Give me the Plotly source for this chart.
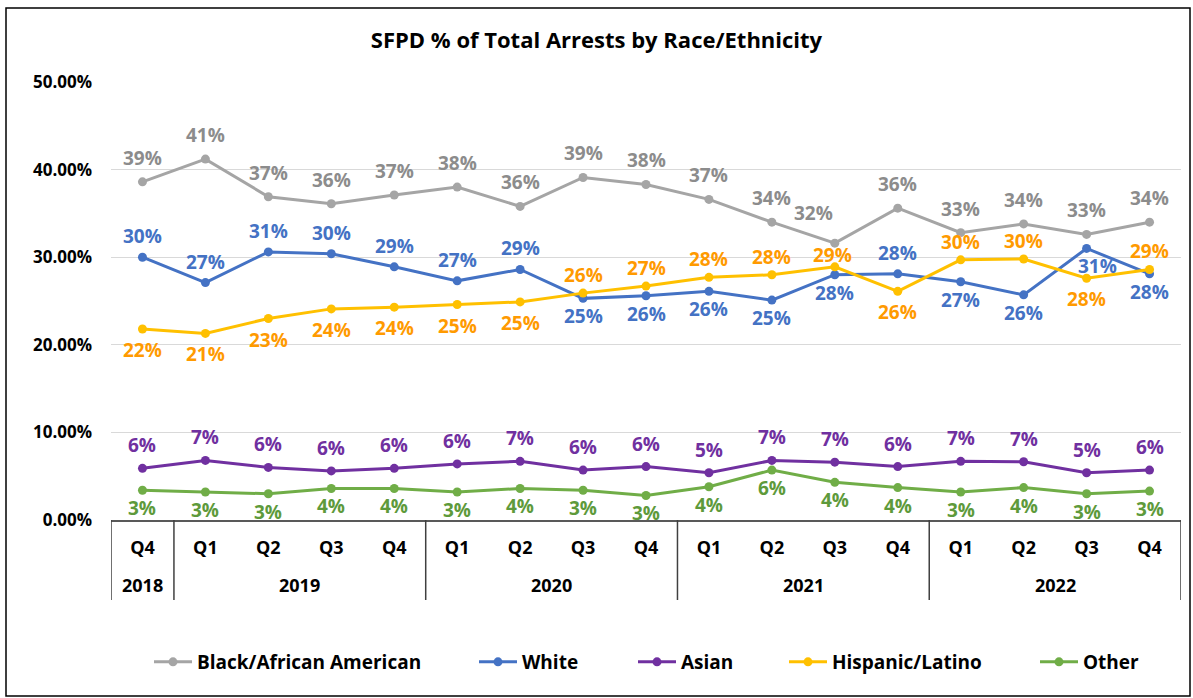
import plotly.graph_objects as go
import numpy as np

# categories
years = ["2018"] + ["2019"] * 4 + ["2020"] * 4 + ["2021"] * 4 + ["2022"] * 4
quarters = ["Q4"] + ["Q1", "Q2", "Q3", "Q4"] * 4

# series values, percent of total arrests
black = [38.6, 41.2, 36.9, 36.1, 37.1, 38.0, 35.8, 39.1, 38.3, 36.6, 34.0, 31.6, 35.6, 32.8, 33.8, 32.6, 34.0]
white = [30.0, 27.1, 30.6, 30.4, 28.9, 27.3, 28.6, 25.3, 25.6, 26.1, 25.1, 28.0, 28.1, 27.2, 25.7, 31.0, 28.1]
asian = [5.9, 6.8, 6.0, 5.6, 5.9, 6.4, 6.7, 5.7, 6.1, 5.4, 6.8, 6.6, 6.1, 6.7, 6.65, 5.4, 5.7]
hispanic = [21.8, 21.3, 23.0, 24.1, 24.3, 24.6, 24.9, 25.9, 26.7, 27.7, 28.0, 28.9, 26.1, 29.7, 29.8, 27.6, 28.6]
other = [3.4, 3.2, 3.0, 3.6, 3.6, 3.2, 3.6, 3.4, 2.8, 3.8, 5.7, 4.3, 3.7, 3.2, 3.7, 3.0, 3.3]

# label placement: 1 above the point, -1 below
white_side = [1, 1, 1, 1, 1, 1, 1, -1, -1, -1, -1, -1, 1, -1, -1, -1, -1]
hisp_side = [-1, -1, -1, -1, -1, -1, -1, 1, 1, 1, 1, 1, -1, 1, 1, -1, 1]

# name, values, line colour, label colour, label side, (up, down) label gap, legend item x (px)
series = [
    ("Black/African American", black, "#A5A5A5", "#8C8C8C", [1] * 17, (24, 21), 155),
    ("White", white, "#4472C4", "#4472C4", white_side, (21, 18), 480),
    ("Asian", asian, "#7030A0", "#7030A0", [1] * 17, (23, 18), 639),
    ("Hispanic/Latino", hispanic, "#FFC000", "#FF9A00", hisp_side, (18, 21), 790),
    ("Other", other, "#70AD47", "#5E9A3B", [-1] * 17, (20, 18), 1041),
]
# labels that were nudged by hand in the original: (series, point) -> (dx, dy)
label_nudge = {
    ("Black/African American", 11): (-21, 30),
    ("Hispanic/Latino", 11): (-2, 12),
    ("White", 15): (11, -18),
}

W, H = 1193, 698
ml, mr, mt, mb = 111, 12, 82, 178
pw, ph = W - ml - mr, H - mt - mb

idx = np.arange(len(quarters))

fig = go.Figure()
annotations = []
legends = {}
for k, (name, vals, col, lab_col, side, gap, lx) in enumerate(series):
    y = np.array(vals) / 100
    lg = "legend" if k == 0 else "legend%d" % (k + 1)
    fig.add_trace(go.Scatter(
        x=idx, y=y, name=name, mode="lines+markers",
        line=dict(color=col, width=3), marker=dict(color=col, size=9),
        legend=lg,
    ))
    legends[lg] = dict(orientation="h", x=(lx - 6 - ml) / pw, xanchor="left",
                       y=-(662 - mt - ph) / ph, yanchor="middle",
                       bgcolor="rgba(0,0,0,0)", itemwidth=38,
                       font=dict(family="Open Sans", size=19, color="black", weight="bold"))
    for i, (v, s) in enumerate(zip(y, side)):
        dx, dy = label_nudge.get((name, i), (0, gap[0] if s > 0 else -gap[1]))
        annotations.append(dict(
            x=i, y=v, xref="x", yref="y", text="%.0f%%" % (v * 100),
            showarrow=False, xshift=dx, yshift=dy, yanchor="middle",
            font=dict(family="Open Sans", size=19, color=lab_col, weight="bold"),
        ))

# year row under the quarter labels, with the table dividers
bounds = [-0.5] + [i - 0.5 for i in range(1, len(years)) if years[i] != years[i - 1]] + [len(years) - 0.5]
for yr in dict.fromkeys(years):
    annotations.append(dict(
        x=np.mean([i for i, v in enumerate(years) if v == yr]), y=0, xref="x", yref="paper",
        text=yr, showarrow=False, yshift=-65, yanchor="middle",
        font=dict(family="Open Sans", size=18, color="black", weight="bold"),
    ))
for b in bounds:
    fig.add_shape(type="line", xref="x", yref="paper", x0=b, x1=b,
                  y0=0, y1=-(600 - mt - ph) / ph, line=dict(color="#404040", width=1.5))

# outer border of the chart
fig.add_shape(type="rect", xref="paper", yref="paper",
              x0=(6 - ml) / pw, x1=(W - 3 - ml) / pw,
              y0=-(H - 2 - mt - ph) / ph, y1=1 + (mt - 8) / ph,
              line=dict(color="black", width=1.5))

fig.update_layout(
    width=W, height=H,
    margin=dict(l=ml, r=mr, t=mt, b=mb),
    paper_bgcolor="white", plot_bgcolor="white",
    title=dict(text="<b>SFPD % of Total Arrests by Race/Ethnicity</b>",
               x=0.5, y=1 - 40 / H, xanchor="center", yanchor="middle",
               font=dict(family="Open Sans", size=22, color="black")),
    font=dict(family="Open Sans", color="black"),
    showlegend=True,
    annotations=annotations,
    **legends,
)
fig.update_yaxes(range=[0, 0.5], dtick=0.1, tickformat=".2%",
                 showgrid=True, gridcolor="#D9D9D9", gridwidth=1,
                 zeroline=False, showline=False, ticks="", ticklabelstandoff=18,
                 tickfont=dict(family="Open Sans", size=17, color="black", weight="bold"))
fig.update_xaxes(range=[-0.5, 16.5], tickvals=idx, ticktext=quarters,
                 showline=True, linecolor="#595959", linewidth=1.5,
                 showgrid=False, zeroline=False, ticks="", ticklabelstandoff=11,
                 tickfont=dict(family="Open Sans", size=18, color="black", weight="bold"))

fig.write_html("out.html", config={"displayModeBar": False},
               post_script="document.body.style.margin='0';")
